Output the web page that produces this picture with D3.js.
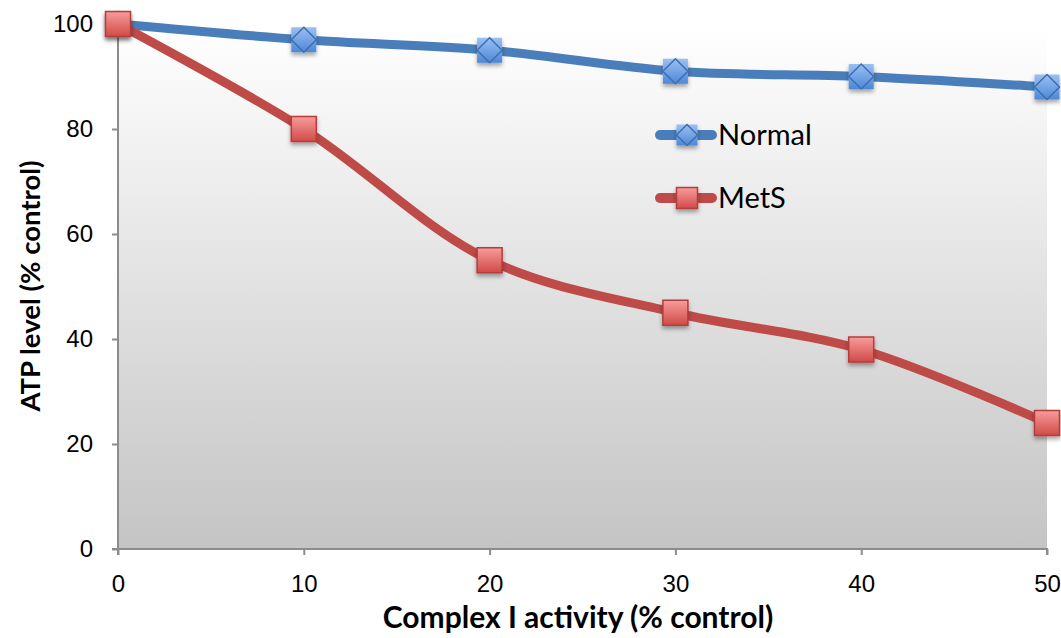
<!DOCTYPE html>
<html>
<head>
<meta charset="utf-8">
<script src="https://cdn.jsdelivr.net/npm/d3@7"></script>
<style>
  body { margin: 0; background: #fff; }
  svg { display: block; font-family: Lato, "Open Sans", sans-serif; }
</style>
</head>
<body>
<svg id="chart" width="1061" height="638"></svg>
<script>
const activity = [0, 10, 20, 30, 40, 50]
const normalAtp = [100, 97, 95, 91, 90, 88]
const metsAtp = [100, 80, 55, 45, 38, 24]
const yTicks = [0, 20, 40, 60, 80, 100]
const xTicks = [0, 10, 20, 30, 40, 50]

const svg = d3.select('#chart')
const margin = {left: 118, right: 14, top: 24, bottom: 89}
const width = 1061 - margin.left - margin.right
const height = 638 - margin.top - margin.bottom

const x = d3.scaleLinear().domain([0, 50]).range([0, width])
const y = d3.scaleLinear().domain([0, 100]).range([height, 0])

const defs = svg.append('defs')
const bg = defs.append('linearGradient').attr('id', 'bg').attr('x1', 0).attr('y1', 0).attr('x2', 0).attr('y2', 1)
bg.append('stop').attr('offset', '0%').attr('stop-color', '#ffffff')
bg.append('stop').attr('offset', '100%').attr('stop-color', '#c4c4c4')

const redG = defs.append('linearGradient').attr('id', 'redG').attr('x1', 0).attr('y1', 0).attr('x2', 0).attr('y2', 1)
redG.append('stop').attr('offset', '0%').attr('stop-color', '#f79d9b')
redG.append('stop').attr('offset', '100%').attr('stop-color', '#d04a47')

const blueG = defs.append('linearGradient').attr('id', 'blueG').attr('x1', 0).attr('y1', 0).attr('x2', 0).attr('y2', 1)
blueG.append('stop').attr('offset', '0%').attr('stop-color', '#9cc0f2')
blueG.append('stop').attr('offset', '100%').attr('stop-color', '#4d87d8')

const shadow = defs.append('filter').attr('id', 'shadow').attr('x', '-50%').attr('y', '-50%').attr('width', '200%').attr('height', '200%')
shadow.append('feDropShadow').attr('dx', 0).attr('dy', 3).attr('stdDeviation', 2).attr('flood-color', '#000').attr('flood-opacity', 0.35)

const g = svg.append('g').attr('transform', `translate(${margin.left},${margin.top})`)

g.append('rect').attr('width', width).attr('height', height).attr('fill', 'url(#bg)')

// axes
const yAxis = g.append('g').call(d3.axisLeft(y).tickValues(yTicks).tickSize(6).tickPadding(19))
const xAxis = g.append('g').attr('transform', `translate(0,${height})`)
    .call(d3.axisBottom(x).tickValues(xTicks).tickSize(6).tickPadding(20))
;[xAxis, yAxis].forEach(a => {
    a.select('.domain').attr('stroke', '#8c8c8c').attr('stroke-width', 2)
    a.selectAll('.tick line').attr('stroke', '#8c8c8c').attr('stroke-width', 2)
    a.selectAll('.tick text').attr('fill', '#000').style('font-size', '24px').style('font-family', 'inherit')
})
yAxis.select('.domain').attr('d', `M-6,${height}H0V0`)
xAxis.select('.domain').attr('d', `M0,6V0H${width}V6`)

// lines
const line = d3.line().curve(d3.curveCatmullRom.alpha(0.5))
    .x((d, i) => x(activity[i])).y(d => y(d))

g.append('path').datum(normalAtp).attr('d', line)
    .attr('fill', 'none').attr('stroke', '#4a7ebb').attr('stroke-width', 9).attr('stroke-linecap', 'round')
g.append('path').datum(metsAtp).attr('d', line)
    .attr('fill', 'none').attr('stroke', '#be4b48').attr('stroke-width', 9).attr('stroke-linecap', 'round')

function blueMarker(sel, cx, cy, ms) {
    const m = sel.append('g').attr('transform', `translate(${cx},${cy})`).attr('filter', 'url(#shadow)')
    m.append('rect').attr('x', -ms / 2).attr('y', -ms / 2).attr('width', ms).attr('height', ms)
        .attr('fill', 'url(#blueG)')
    m.append('path').attr('d', `M0,${-ms / 2}L${ms / 2},0L0,${ms / 2}L${-ms / 2},0Z`)
        .attr('fill', 'url(#blueG)').attr('stroke', '#3d6fae').attr('stroke-width', 1.5)
}
function redMarker(sel, cx, cy, ms) {
    sel.append('rect').attr('x', cx - ms / 2).attr('y', cy - ms / 2).attr('width', ms).attr('height', ms)
        .attr('fill', 'url(#redG)').attr('stroke', '#b23d3a').attr('stroke-width', 1.5)
        .attr('filter', 'url(#shadow)')
}

normalAtp.forEach((v, i) => blueMarker(g, x(activity[i]), y(v), 25))
metsAtp.forEach((v, i) => redMarker(g, x(activity[i]), y(v), 25))

// legend
const legend = [
    {name: 'Normal', color: '#4a7ebb', marker: blueMarker, y: 135},
    {name: 'MetS', color: '#be4b48', marker: redMarker, y: 198}
]
legend.forEach(d => {
    svg.append('line').attr('x1', 660).attr('x2', 712).attr('y1', d.y).attr('y2', d.y)
        .attr('stroke', d.color).attr('stroke-width', 10).attr('stroke-linecap', 'round')
    d.marker(svg, 687, d.y, 21)
    svg.append('text').attr('x', 718).attr('y', d.y + 10).text(d.name)
        .style('font-size', '29px').attr('fill', '#000')
})

// titles
svg.append('text').attr('x', 578).attr('y', 628).attr('text-anchor', 'middle')
    .style('font-size', '30px').style('font-weight', 'bold').text('Complex I activity (% control)')
svg.append('text').attr('transform', `translate(40,286) rotate(-90)`)
    .attr('text-anchor', 'middle')
    .style('font-size', '27.5px').style('font-weight', 'bold').text('ATP level (% control)')
</script>
</body>
</html>
